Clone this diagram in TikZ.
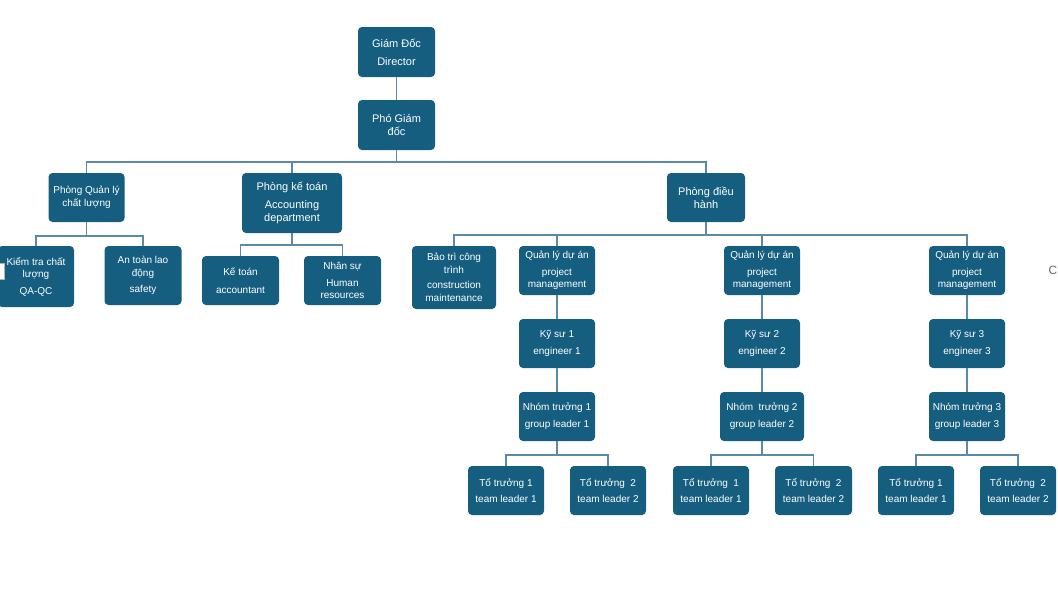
\documentclass[tikz,border=0pt]{standalone}
\usepackage{fontspec}
\setmainfont{Liberation Sans}
\usetikzlibrary{positioning}
\definecolor{mbox}{HTML}{155E80}
\definecolor{mline}{HTML}{5A8AA6}
\tikzset{box/.style = {fill=mbox, rounded corners=4pt, text=white, align=center,
                       inner sep=0pt, minimum width=76pt, minimum height=49pt,
                       font=\fontsize{10}{12.5}\selectfont},
         bigbox/.style = {box, font=\fontsize{11}{13}\selectfont},
         link/.style = {draw=mline, line width=1.4pt}}

\begin{document}
\begin{tikzpicture}[x=1pt, y=-1pt]
      \useasboundingbox (0, 0) rectangle (1058, 605);

      % top
      \node [bigbox, minimum width=77pt, minimum height=50pt] (dir) at (396.5, 52) {Giám Đốc\\[5pt]Director};
      \node [bigbox, minimum width=77pt, minimum height=50pt] (pgd) at (396.5, 125) {Phó Giám\\đốc};

      % departments
      \node [box] (qlcl) at (86.5, 197.5) {Phòng Quản lý\\chất lượng};
      \node [bigbox, minimum width=100pt, minimum height=60pt] (ketoan) at (292, 203) {Phòng kế toán\\[5pt]Accounting\\department};
      \node [bigbox, minimum width=78pt] (dieuhanh) at (706, 197.5) {Phòng điều\\hành};

      \node [box, minimum height=61pt] (kt) at (36, 276.5) {Kiểm tra chất\\lượng\\[4pt]QA-QC};
      \node [box, minimum width=77pt, minimum height=59pt] (antoan) at (143, 275.5) {An toàn lao\\động\\[4pt]safety};
      \node [box, minimum width=77pt] (acc) at (240.5, 280.5) {Kế toán\\[5pt]accountant};
      \node [box, minimum width=77pt] (hr) at (342.5, 280.5) {Nhân sự\\[4pt]Human\\resources};
      \fill [white] (0, 263) rectangle (4, 279);
      \draw [gray!60, line width=0.4pt] (0, 263) -- (4, 263) -- (4, 279) -- (0, 279);

      \node [box, minimum width=84pt, minimum height=63pt] (baotri) at (454, 277.5) {Bảo trì công\\trình\\[3pt]construction\\maintenance};
      \node [box] (qlda1) at (557, 270.5) {Quản lý dự án\\[4pt]project\\management};
      \node [box] (qlda2) at (762, 270.5) {Quản lý dự án\\[4pt]project\\management};
      \node [box] (qlda3) at (967, 270.5) {Quản lý dự án\\[4pt]project\\management};

      \node [box] (ks1) at (557, 343.5) {Kỹ sư 1\\[4pt]engineer 1};
      \node [box] (ks2) at (762, 343.5) {Kỹ sư 2\\[4pt]engineer 2};
      \node [box] (ks3) at (967, 343.5) {Kỹ sư 3\\[4pt]engineer 3};

      \node [box] (nt1) at (557, 416.5) {Nhóm trưởng 1\\[4pt]group leader 1};
      \node [box, minimum width=84pt] (nt2) at (762, 416.5) {Nhóm\ \ trưởng 2\\[4pt]group leader 2};
      \node [box] (nt3) at (967, 416.5) {Nhóm trưởng 3\\[4pt]group leader 3};

      \node [box] (tt11) at (506, 490.5) {Tổ trưởng 1\\[4pt]team leader 1};
      \node [box] (tt12) at (608, 490.5) {Tổ trưởng\ \ 2\\[4pt]team leader 2};
      \node [box] (tt21) at (711, 490.5) {Tổ trưởng\ \ 1\\[4pt]team leader 1};
      \node [box, minimum width=77pt] (tt22) at (813.5, 490.5) {Tổ trưởng\ \ 2\\[4pt]team leader 2};
      \node [box] (tt31) at (916, 490.5) {Tổ trưởng 1\\[4pt]team leader 1};
      \node [box] (tt32) at (1018, 490.5) {Tổ trưởng\ \ 2\\[4pt]team leader 2};

      \node [text=gray!80!black, font=\fontsize{12}{12}\selectfont, inner sep=0pt, anchor=east] (stray) at (1057.5, 270) {C};

      % bus points
      \coordinate (b0) at (396.5, 162);
      \coordinate (b1) at (86.5, 236);
      \coordinate (b2) at (292, 245);
      \coordinate (b3) at (706, 235);
      \coordinate (b4) at (557, 455);
      \coordinate (b5) at (762, 455);
      \coordinate (b6) at (967, 455);

      \draw [link] (dir) -- (pgd);
      \draw [link] (pgd) -- (b0);
      \draw [link] (b0) -| (qlcl);
      \draw [link] (b0) -| (ketoan);
      \draw [link] (b0) -| (dieuhanh);

      \draw [link] (qlcl) -- (b1);
      \draw [link] (b1) -| (kt);
      \draw [link] (b1) -| (antoan);
      \draw [link] (ketoan) -- (b2);
      \draw [link] (b2) -| (acc);
      \draw [link] (b2) -| (hr);

      \draw [link] (dieuhanh) -- (b3);
      \draw [link] (b3) -| (baotri);
      \draw [link] (b3) -| (qlda1);
      \draw [link] (b3) -| (qlda2);
      \draw [link] (b3) -| (qlda3);

      \draw [link] (qlda1) -- (ks1);
      \draw [link] (qlda2) -- (ks2);
      \draw [link] (qlda3) -- (ks3);
      \draw [link] (ks1) -- (nt1);
      \draw [link] (ks2) -- (nt2);
      \draw [link] (ks3) -- (nt3);

      \draw [link] (nt1) -- (b4);
      \draw [link] (b4) -| (tt11);
      \draw [link] (b4) -| (tt12);
      \draw [link] (nt2) -- (b5);
      \draw [link] (b5) -| (tt21);
      \draw [link] (b5) -| (tt22);
      \draw [link] (nt3) -- (b6);
      \draw [link] (b6) -| (tt31);
      \draw [link] (b6) -| (tt32);
    \end{tikzpicture}
\end{document}
